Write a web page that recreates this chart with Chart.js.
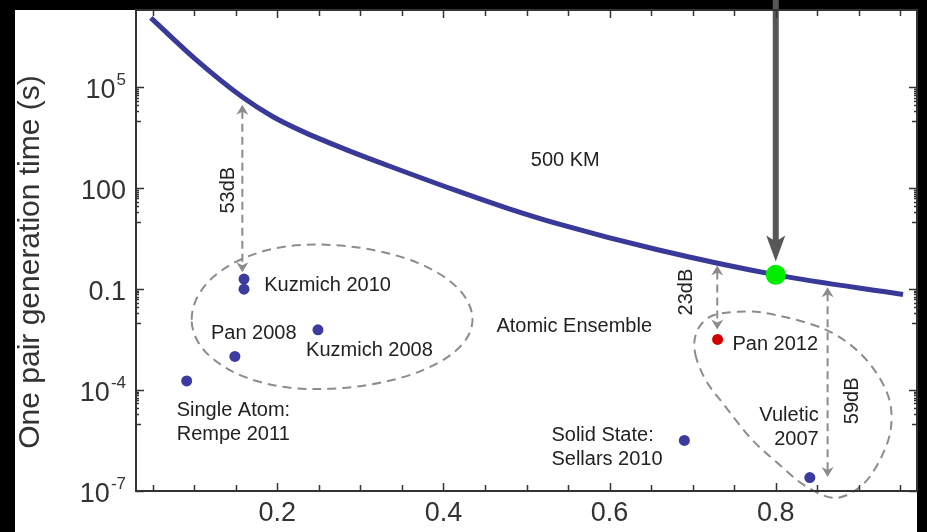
<!DOCTYPE html>
<html><head><meta charset="utf-8">
<script src="https://cdn.jsdelivr.net/npm/chart.js@4.4.1/dist/chart.umd.min.js"></script>
<style>html,body{margin:0;padding:0;background:#000;overflow:hidden}canvas{display:block}</style>
</head><body><canvas id="c" width="927" height="532"></canvas>
<script>
// ---- data ----
const curveX = [0.0479, 0.1018, 0.158, 0.1938, 0.2297, 0.2859, 0.3338, 0.4175, 0.4773, 0.5371, 0.6566, 0.8001, 0.9532];
const curveY = [1.17e7, 6.82e5, 5.16e4, 1.39e4, 5.01e3, 1.32e3, 468, 82, 25.4, 8.9, 1.51, 0.267, 0.070];

const expNames = ['Kuzmich 2010', 'Kuzmich 2010', 'Pan 2008', 'Kuzmich 2008', 'Rempe 2011', 'Sellars 2010', 'Vuletic 2007'];
const expX = [0.16, 0.16, 0.149, 0.249, 0.091, 0.69, 0.841];
const expY = [0.2, 0.1, 1e-3, 6.2e-3, 1.87e-4, 3.2e-6, 2.5e-7];

const pan2012X = [0.73];
const pan2012Y = [3.2e-3];

const targetX = [0.80];
const targetY = [0.267];

const xTickValues = [0.2, 0.4, 0.6, 0.8];
const xTickLabels = ['0.2', '0.4', '0.6', '0.8'];
const yTickValues = [1e-7, 1e-4, 0.1, 100, 1e5];
const yTickBase = ['10', '10', '0.1', '100', '10'];
const yTickExp = ['-7', '-4', '', '', '5'];
const yTitle = 'One pair generation time (s)';

// annotations (data coordinates)
const noteText = ['500 KM', 'Atomic Ensemble', 'Kuzmich 2010', 'Pan 2008', 'Kuzmich 2008', 'Single Atom:\nRempe 2011', 'Solid State:\nSellars 2010', 'Vuletic\n2007', 'Pan 2012'];
const noteX = [0.5466, 0.5574, 0.1843, 0.1717, 0.311, 0.079, 0.53, 0.8516, 0.7479];
const noteY = [676, 7.7e-3, 0.132, 4.8e-3, 1.55e-3, 2.4e-5, 4.45e-6, 1.8e-5, 2.34e-3];
const noteAlign = ['center', 'center', 'left', 'center', 'center', 'left', 'left', 'right', 'left'];

const gapText = ['53dB', '23dB', '59dB'];
const gapX = [0.158, 0.7296, 0.8624];
const gapTop = [3.06e4, 0.51, 0.115];
const gapBottom = [0.32, 6.3e-3, 2.6e-7];
const gapLabelX = [0.1412, 0.6925, 0.8922];
const gapLabelY = [88, 0.082, 4.8e-5];

const arrowX = 0.80, arrowTipY = 0.67;

// left group outline (egg): centre, left/right x, top/bottom y
const eggCX = 0.244, eggCY = 0.0123, eggXL = 0.097, eggXR = 0.435, eggYT = 2.13, eggYB = 1.07e-4;
// right group outline (teardrop) anchor points
const tearX = [0.7045, 0.7021, 0.7081, 0.7236, 0.7523, 0.7933, 0.8600, 0.9054, 0.9341, 0.9389, 0.9281, 0.9054, 0.8719, 0.8360, 0.8025, 0.7702, 0.7368, 0.7164];
const tearY = [8.77e-4, 2.78e-3, 7.67e-3, 0.0162, 0.0212, 0.01854, 6.26e-3, 1.0e-3, 8.18e-5, 8.75e-6, 1.15e-6, 1.61e-7, 6.22e-8, 1.40e-7, 6.67e-7, 3.63e-6, 3.89e-5, 1.85e-4];

const FONT = "'Liberation Sans', Arial, Helvetica, sans-serif";
const DASH_COL = '#8c8c8c';

function head(ctx, x, y, dir, w, len, notch) {
  ctx.beginPath();
  ctx.moveTo(x, y);
  ctx.lineTo(x - w / 2, y - dir * len);
  ctx.lineTo(x, y - dir * (len - notch));
  ctx.lineTo(x + w / 2, y - dir * len);
  ctx.closePath();
  ctx.fill();
}

function closedSpline(ctx, pts) {
  const n = pts.length;
  ctx.beginPath();
  ctx.moveTo(pts[0][0], pts[0][1]);
  for (let i = 0; i < n; i++) {
    const p0 = pts[(i - 1 + n) % n], p1 = pts[i], p2 = pts[(i + 1) % n], p3 = pts[(i + 2) % n];
    ctx.bezierCurveTo(p1[0] + (p2[0] - p0[0]) / 6, p1[1] + (p2[1] - p0[1]) / 6,
                      p2[0] - (p3[0] - p1[0]) / 6, p2[1] - (p3[1] - p1[1]) / 6,
                      p2[0], p2[1]);
  }
  ctx.closePath();
}

const deco = {
  id: 'deco',
  beforeDraw(chart) {
    const { ctx, width, height, chartArea: a } = chart;
    ctx.save();
    ctx.fillStyle = '#000';
    ctx.fillRect(0, 0, width, height);
    ctx.fillStyle = '#fff';
    ctx.fillRect(15, a.top, a.right - 15, height - a.top);
    ctx.restore();
  },
  beforeDatasetsDraw(chart) {
    const { ctx } = chart;
    const X = chart.scales.x, Y = chart.scales.y;
    ctx.save();
    ctx.strokeStyle = DASH_COL;
    ctx.fillStyle = DASH_COL;
    ctx.lineWidth = 2;
    ctx.setLineDash([9, 6]);
    // egg
    const cx = X.getPixelForValue(eggCX), cy = Y.getPixelForValue(eggCY);
    const rl = cx - X.getPixelForValue(eggXL), rr = X.getPixelForValue(eggXR) - cx;
    const rt = cy - Y.getPixelForValue(eggYT), rb = Y.getPixelForValue(eggYB) - cy;
    ctx.beginPath();
    ctx.ellipse(cx, cy, rl, rt, 0, Math.PI, 1.5 * Math.PI);
    ctx.ellipse(cx, cy, rr, rt, 0, 1.5 * Math.PI, 2 * Math.PI);
    ctx.ellipse(cx, cy, rr, rb, 0, 0, 0.5 * Math.PI);
    ctx.ellipse(cx, cy, rl, rb, 0, 0.5 * Math.PI, Math.PI);
    ctx.stroke();
    // teardrop
    const pts = tearX.map((v, i) => [X.getPixelForValue(v), Y.getPixelForValue(tearY[i])]);
    closedSpline(ctx, pts);
    ctx.stroke();
    // dB gap arrows
    ctx.setLineDash([8, 5]);
    gapX.forEach((gx, i) => {
      const px = X.getPixelForValue(gx);
      const t = Y.getPixelForValue(gapTop[i]), b = Y.getPixelForValue(gapBottom[i]);
      ctx.beginPath();
      ctx.moveTo(px, t + 6);
      ctx.lineTo(px, b - 6);
      ctx.stroke();
      head(ctx, px, t, -1, 12, 10, 3);
      head(ctx, px, b, 1, 12, 10, 3);
    });
    ctx.restore();
  },
  afterDatasetsDraw(chart) {
    const { ctx, chartArea: a } = chart;
    const X = chart.scales.x, Y = chart.scales.y;
    ctx.save();
    // big gray arrow
    const ax = X.getPixelForValue(arrowX), at = Y.getPixelForValue(arrowTipY);
    ctx.fillStyle = '#575757';
    ctx.fillRect(ax - 3, 0, 6, at - 18);
    head(ctx, ax, at, 1, 19, 26, 6);
    // frame
    ctx.strokeStyle = '#333';
    ctx.lineWidth = 2;
    ctx.strokeRect(a.left, a.top, a.right - a.left, a.bottom - a.top);
    // x ticks (inward, bottom and top)
    ctx.lineWidth = 1.5;
    ctx.beginPath();
    for (let k = 1; k <= 19; k++) {
      const v = k * 0.05;
      const px = Math.round(X.getPixelForValue(v)) + 0.5;
      const len = (k % 4 === 0) ? 8 : 6;
      ctx.moveTo(px, a.bottom); ctx.lineTo(px, a.bottom - len);
      ctx.moveTo(px, a.top); ctx.lineTo(px, a.top + len);
    }
    ctx.stroke();
    // y ticks (inward, left and right) with minor ticks in the decade below each label
    ctx.beginPath();
    yTickValues.forEach(v => {
      const py = Math.round(Y.getPixelForValue(v)) + 0.5;
      ctx.moveTo(a.left, py); ctx.lineTo(a.left + 8, py);
      ctx.moveTo(a.right, py); ctx.lineTo(a.right - 8, py);
      for (let k = 1; k <= 9; k++) {
        const mv = v / 10 * k;
        if (mv < Y.min) continue;
        const my = Math.round(Y.getPixelForValue(mv)) + 0.5;
        const len = k === 1 ? 5 : 3;
        ctx.moveTo(a.left, my); ctx.lineTo(a.left + len, my);
        ctx.moveTo(a.right, my); ctx.lineTo(a.right - len, my);
      }
    });
    ctx.stroke();
    // y tick labels with superscripts
    ctx.fillStyle = '#333';
    ctx.textBaseline = 'alphabetic';
    ctx.textAlign = 'left';
    yTickValues.forEach((v, i) => {
      const py = Y.getPixelForValue(v);
      ctx.font = `27px ${FONT}`;
      const bw = ctx.measureText(yTickBase[i]).width;
      ctx.font = `17px ${FONT}`;
      const ew = yTickExp[i] ? ctx.measureText(yTickExp[i]).width + 1 : 0;
      const right = a.left - 10;
      const x0 = right - bw - ew;
      ctx.font = `27px ${FONT}`;
      ctx.fillText(yTickBase[i], x0, py + 11);
      if (yTickExp[i]) {
        ctx.font = `17px ${FONT}`;
        ctx.fillText(yTickExp[i], x0 + bw + 1, py - 2);
      }
    });
    // y title
    ctx.save();
    ctx.translate(31, 262);
    ctx.rotate(-Math.PI / 2);
    ctx.font = `30px ${FONT}`;
    ctx.textAlign = 'center';
    ctx.textBaseline = 'middle';
    ctx.fillStyle = '#333';
    ctx.fillText(yTitle, 0, 0);
    ctx.restore();
    // annotation text
    ctx.fillStyle = '#222';
    ctx.font = `20px ${FONT}`;
    ctx.textBaseline = 'middle';
    noteText.forEach((t, i) => {
      const px = X.getPixelForValue(noteX[i]), py = Y.getPixelForValue(noteY[i]);
      ctx.textAlign = noteAlign[i];
      t.split('\n').forEach((line, j) => ctx.fillText(line, px, py + j * 24));
    });
    gapText.forEach((t, i) => {
      const px = X.getPixelForValue(gapLabelX[i]), py = Y.getPixelForValue(gapLabelY[i]);
      ctx.save();
      ctx.translate(px, py);
      ctx.rotate(-Math.PI / 2);
      ctx.textAlign = 'center';
      ctx.fillText(t, 0, 0);
      ctx.restore();
    });
    ctx.restore();
  }
};

const toPts = (xs, ys) => xs.map((v, i) => ({ x: v, y: ys[i] }));

new Chart(document.getElementById('c'), {
  type: 'scatter',
  data: {
    datasets: [
      { label: '500 KM', data: toPts(curveX, curveY), showLine: true, borderColor: '#39399a', borderWidth: 5,
        pointRadius: 0, cubicInterpolationMode: 'monotone', fill: false, order: 3 },
      { label: 'Experiments', data: toPts(expX, expY), backgroundColor: '#3b3ba0', borderWidth: 0, pointRadius: 5.5, order: 2 },
      { label: 'Pan 2012', data: toPts(pan2012X, pan2012Y), backgroundColor: '#d40000', borderWidth: 0, pointRadius: 5.5, order: 1 },
      { label: 'Target', data: toPts(targetX, targetY), backgroundColor: '#00ee00', borderWidth: 0, pointRadius: 10, order: 0 }
    ]
  },
  options: {
    responsive: false,
    animation: false,
    devicePixelRatio: 1,
    layout: { padding: { left: 0, right: 5, top: 5, bottom: 0 } },
    plugins: { legend: { display: false }, tooltip: { enabled: false } },
    scales: {
      x: {
        type: 'linear', min: 0.03, max: 0.97,
        grid: { display: false, drawTicks: false }, border: { display: false },
        afterBuildTicks: s => { s.ticks = xTickValues.map(v => ({ value: v })); },
        afterFit: s => { s.height = 41; },
        ticks: { padding: 6, color: '#333', font: { size: 27, family: FONT },
                 callback: v => xTickLabels[xTickValues.indexOf(v)] ?? '' }
      },
      y: {
        type: 'logarithmic', min: 1e-7, max: 2e7,
        grid: { display: false, drawTicks: false }, border: { display: false },
        afterBuildTicks: s => { s.ticks = yTickValues.map(v => ({ value: v })); },
        afterFit: s => { s.width = 136; },
        ticks: { display: false }
      }
    }
  },
  plugins: [deco]
});
</script>
</body></html>
